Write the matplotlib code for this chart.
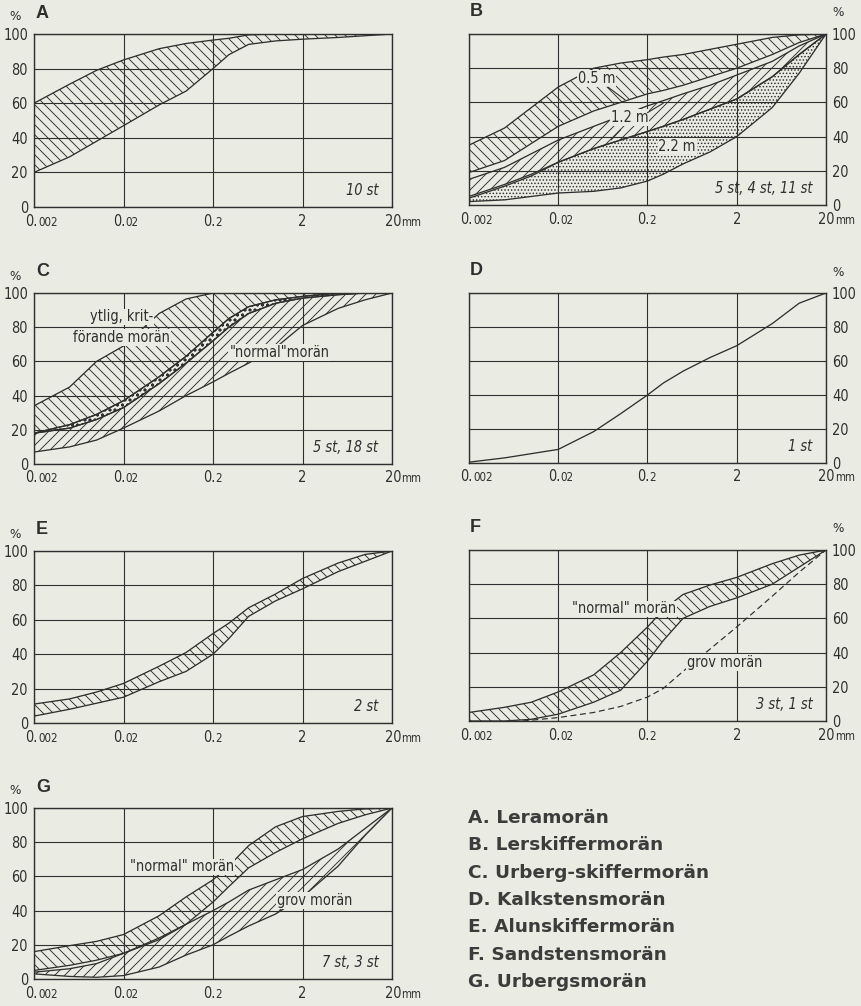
import matplotlib.pyplot as plt
from matplotlib.ticker import NullLocator

DPI = 60
W, H = 861, 1006
BG = '#eaece4'
INK = '#2f2f2f'


def pt(px):
    return px * 72 / DPI


plt.rcParams['font.family'] = ['DejaVu Sans']
plt.rcParams['hatch.linewidth'] = 1.1

# grain size (mm) and cumulative % passing
sizes = [0.002, 0.005, 0.01, 0.02, 0.05, 0.1, 0.2, 0.3, 0.5, 1, 2, 5, 10, 20]

A_hi = [60, 71, 79, 85, 91.5, 94.5, 96.5, 97.5, 99.5, 100, 100, 100, 100, 100]
A_lo = [20, 29, 38, 47, 59, 67, 80, 88, 94, 96, 97, 98, 99, 100]

B05_hi = [35, 45, 57, 69, 80, 83, 85, 86.5, 88, 91, 94, 98, 99.5, 100]
B05_lo = [19, 26, 36, 46, 55, 60, 65, 67, 70, 75, 80, 88, 95, 100]
B12_hi = [15, 22, 30, 38, 46, 52, 58, 61, 65, 70, 76, 84, 93, 100]
B12_lo = [5, 12, 18, 25, 33, 38, 43, 46, 50, 56, 62, 75, 88, 100]
B22_hi = [4, 11, 17, 25, 33, 38, 43, 46, 50, 56, 62, 75, 88, 100]
B22_lo = [2, 3, 5, 7, 8, 10, 14, 18, 24, 31, 40, 57, 77, 100]

C_yt_hi = [34, 45, 60, 69, 88, 96.5, 100, 100, 100, 100, 100, 100, 100, 100]
C_yt_lo = [18, 21, 26, 33, 47, 59, 72, 80, 88, 94, 97, 99, 100, 100]
C_no_hi = [18, 23, 29, 37, 51, 63, 77, 85, 92, 96, 98, 100, 100, 100]
C_no_lo = [7, 10, 14, 21, 31, 40, 48, 53, 59, 68, 81, 91, 96, 100]

D_line = [0.5, 3, 5.5, 8, 18.5, 29, 40, 47, 54, 62, 69, 82, 94, 100]

E_hi = [11, 14, 18, 23, 33, 41, 52, 58, 67, 75, 84, 93, 98, 100]
E_lo = [4, 8, 11.5, 15, 24, 30, 40, 49, 62, 71, 78, 88, 94, 100]

F_hi = [5, 8, 11, 17, 27, 40, 55, 65, 74, 79.5, 84, 92, 97, 100]
F_lo = [0, 0, 1, 4, 11, 18, 35, 47, 60, 67, 72, 80, 90, 100]
F_grov_sizes = [0.008, 0.02, 0.05, 0.1, 0.2, 0.3, 0.5, 1, 2, 5, 10, 20]
F_grov = [0, 2, 5, 8.5, 14, 19, 29, 42, 55, 73, 87, 100]

G_no_hi = [16, 19.5, 22, 26, 37, 48, 58, 66, 78, 89, 95, 98, 99.5, 100]
G_no_lo = [5, 8, 11, 15, 23, 32, 45, 54, 65, 74, 82, 91, 96, 100]
G_gr_hi = [4, 6, 9, 15, 24, 32, 40, 45, 52, 58, 64, 76, 88, 100]
G_gr_lo = [3, 1.5, 1, 2, 7, 14, 20, 25, 31, 38, 48, 66, 84, 100]

x_ticks = [0.002, 0.02, 0.2, 2, 20]
x_main = ['0.', '0.', '0.', '2', '20']
x_small = ['002', '02', '2', '', 'mm']
y_ticks = [0, 20, 40, 60, 80, 100]

legend = ['A. Leramorän', 'B. Lerskiffermorän', 'C. Urberg-skiffermorän',
          'D. Kalkstensmorän', 'E. Alunskiffermorän', 'F. Sandstensmorän',
          'G. Urbergsmorän']

fig = plt.figure(figsize=(W / DPI, H / DPI), dpi=DPI, facecolor=BG)

TXT = dict(fontsize=pt(14.5), color=INK, fontstretch='condensed')
BOX = dict(fc=BG, ec='none', pad=1)


def panel(box, letter, right=False):
    l, t, r, b = box
    ax = fig.add_axes([l / W, 1 - b / H, (r - l) / W, (b - t) / H])
    ax.set_facecolor(BG)
    ax.set_xscale('log')
    ax.set_xlim(0.002, 20)
    ax.set_ylim(0, 100)
    ax.set_xticks(x_ticks)
    ax.xaxis.set_minor_locator(NullLocator())
    ax.set_yticks(y_ticks)
    ax.grid(True, color=INK, lw=pt(1.1))
    ax.set_axisbelow(True)
    for s in ax.spines.values():
        s.set_color(INK)
        s.set_linewidth(pt(1.4))
    ax.tick_params(length=0, labelbottom=False, pad=pt(6), labelcolor=INK,
                   labelsize=pt(14.5))
    if right:
        ax.yaxis.tick_right()
    for lab in ax.get_yticklabels():
        lab.set_fontstretch('condensed')
    trans = ax.get_xaxis_transform()
    offs = [4, 2, 2, 0, 9]
    for x, m, s, o in zip(x_ticks, x_main, x_small, offs):
        if s:
            ax.annotate(m, (x, 0), xycoords=trans, xytext=(o, -14),
                        textcoords='offset pixels', ha='right', va='center',
                        **TXT)
            ax.annotate(s, (x, 0), xycoords=trans, xytext=(o, -15),
                        textcoords='offset pixels', ha='left', va='center',
                        fontsize=pt(11.5), color=INK, fontstretch='condensed')
        else:
            ax.annotate(m, (x, 0), xycoords=trans, xytext=(0, -14),
                        textcoords='offset pixels', ha='center', va='center',
                        **TXT)
    # "%" and panel letter
    if right:
        fig.text(838 / W, 1 - (t - 21) / H, '%', ha='center', va='center',
                 fontsize=pt(12), color=INK)
        fig.text((l + 1) / W, 1 - (t - 22) / H, letter, ha='left', va='center',
                 fontsize=pt(18), fontweight='bold', color=INK,
                 family='Liberation Sans')
    else:
        fig.text(15 / W, 1 - (t - 17) / H, '%', ha='center', va='center',
                 fontsize=pt(12), color=INK)
        fig.text(36 / W, 1 - (t - 21) / H, letter, ha='left', va='center',
                 fontsize=pt(18), fontweight='bold', color=INK,
                 family='Liberation Sans')
    return ax


def band(ax, x, lo, hi, hatch, face='none'):
    ax.fill_between(x, lo, hi, facecolor=face, edgecolor=INK, hatch=hatch,
                    linewidth=0)
    ax.plot(x, lo, color=INK, lw=pt(1.3))
    ax.plot(x, hi, color=INK, lw=pt(1.3))


def st(ax, s):
    ax.text(0.962, 0.095, s, transform=ax.transAxes, ha='right', va='center',
            style='italic', **TXT)


LEFT = (34, 392)
RIGHT = (469, 826)
BACK = '\\\\'
FWD = '//'

axA = panel((LEFT[0], 34, LEFT[1], 207), 'A')
band(axA, sizes, A_lo, A_hi, BACK)
st(axA, '10 st')

axB = panel((RIGHT[0], 34, RIGHT[1], 205), 'B', right=True)
band(axB, sizes, B22_lo, B22_hi, '...')
band(axB, sizes, B12_lo, B12_hi, FWD)
band(axB, sizes, B05_lo, B05_hi, BACK)
axB.text(0.054, 74, '0.5 m', ha='center', va='center', bbox=BOX, **TXT)
axB.text(0.126, 51, '1.2 m', ha='center', va='center', bbox=BOX, **TXT)
axB.text(0.43, 34.5, '2.2 m', ha='center', va='center', bbox=BOX, **TXT)
for a, b in [((0.072, 69), (0.112, 61.5)), ((0.1, 44), (0.078, 38)),
             ((0.2, 54), (0.3, 59.5))]:
    axB.annotate('', xy=b, xytext=a,
                 arrowprops=dict(arrowstyle='-', color=INK, lw=pt(1.1),
                                 shrinkA=0, shrinkB=0))
st(axB, '5 st, 4 st, 11 st')

axC = panel((LEFT[0], 293, LEFT[1], 464), 'C')
band(axC, sizes, C_no_lo, C_no_hi, FWD)
band(axC, sizes, C_yt_lo, C_yt_hi, BACK)
axC.fill_between(sizes, C_yt_lo, C_no_hi, facecolor=BG, edgecolor=INK,
                 hatch='oo', linewidth=0)
axC.plot(sizes, C_yt_lo, color=INK, lw=pt(1.3))
axC.plot(sizes, C_no_hi, color=INK, lw=pt(1.3))
axC.text(0.019, 86, 'ytlig, krit-', ha='center', va='center', bbox=BOX, **TXT)
axC.text(0.019, 74, 'förande morän', ha='center', va='center', bbox=BOX, **TXT)
axC.text(1.1, 65, '"normal"morän', ha='center', va='center', bbox=BOX, **TXT)
st(axC, '5 st, 18 st')

axD = panel((RIGHT[0], 293, RIGHT[1], 463), 'D', right=True)
axD.plot(sizes, D_line, color=INK, lw=pt(1.3))
st(axD, '1 st')

axE = panel((LEFT[0], 551, LEFT[1], 723), 'E')
band(axE, sizes, E_lo, E_hi, BACK)
st(axE, '2 st')

axF = panel((RIGHT[0], 550, RIGHT[1], 721), 'F', right=True)
band(axF, sizes, F_lo, F_hi, BACK)
axF.plot(F_grov_sizes, F_grov, color=INK, lw=pt(1.2), ls=(0, (5, 3)))
axF.text(0.11, 65.5, '"normal" morän', ha='center', va='center', bbox=BOX,
         **TXT)
axF.text(1.47, 34, 'grov morän', ha='center', va='center', bbox=BOX, **TXT)
st(axF, '3 st, 1 st')

axG = panel((LEFT[0], 808, LEFT[1], 979), 'G')
band(axG, sizes, G_gr_lo, G_gr_hi, FWD)
band(axG, sizes, G_no_lo, G_no_hi, BACK)
axG.text(0.09, 65.5, '"normal" morän', ha='center', va='center', bbox=BOX,
         **TXT)
axG.text(2.76, 46, 'grov morän', ha='center', va='center', bbox=BOX, **TXT)
st(axG, '7 st, 3 st')

for i, s in enumerate(legend):
    fig.text(468 / W, 1 - (818 + 27.3 * i) / H, s, ha='left', va='center',
             fontsize=pt(18.5), fontweight='bold', color='#3c3c3c',
             family='DejaVu Sans')

fig.savefig('out.png', dpi=DPI, facecolor=BG)
